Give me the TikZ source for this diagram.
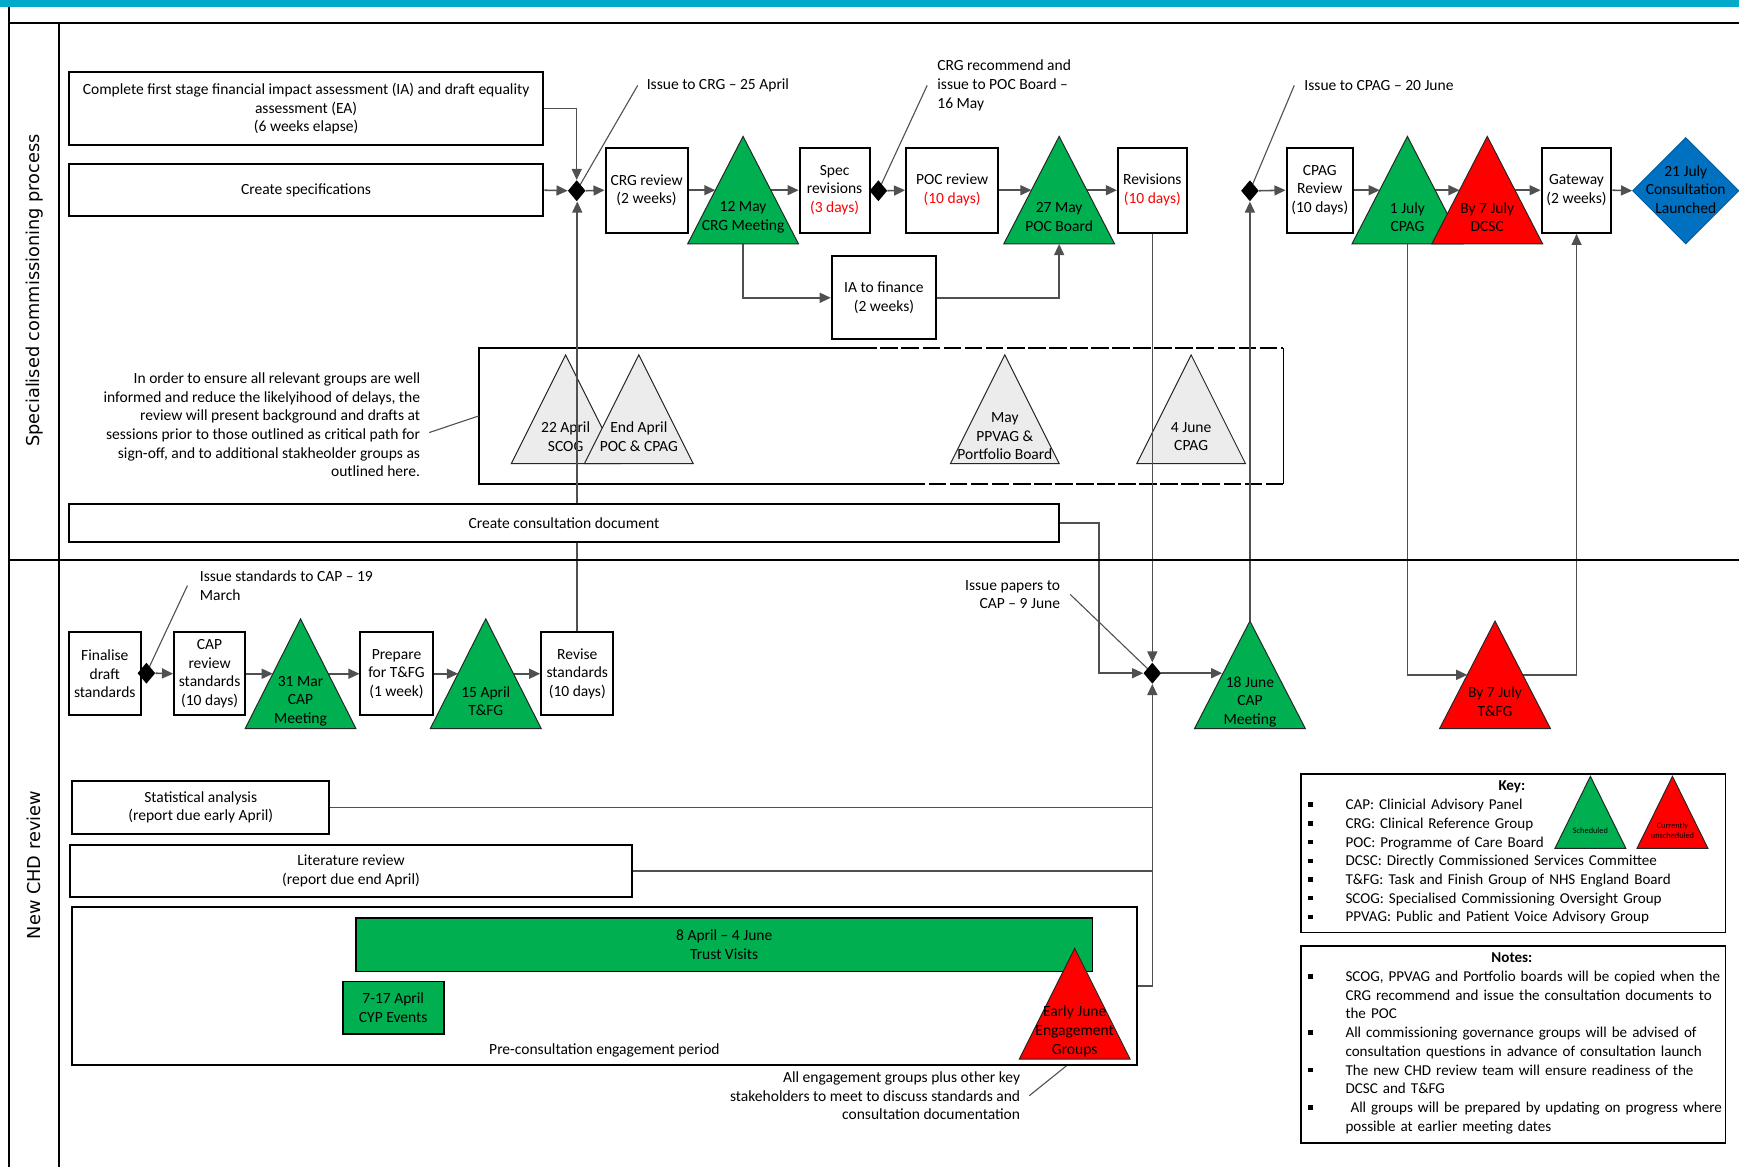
\documentclass[tikz,border=0pt]{standalone}
\usepackage{fontspec}
\setmainfont{Carlito}
\newfontfamily\lanefont{DejaVu Sans}
\usetikzlibrary{arrows.meta,shapes.geometric}
\definecolor{teal1}{RGB}{0,170,200}
\definecolor{gr}{RGB}{0,176,80}
\definecolor{rd}{RGB}{255,0,0}
\definecolor{bl}{RGB}{0,112,192}
\definecolor{conn}{RGB}{80,80,80}
\definecolor{lgrey}{RGB}{236,236,236}
\pgfdeclarelayer{back}\pgfdeclarelayer{mid}\pgfsetlayers{back,mid,main}
\newcommand\fs{\fontsize{14}{16.8}\selectfont}
\newcommand\kfs{\fontsize{13.6}{16.9}\selectfont}
\newcommand\tinyfs{\fontsize{7.5}{8.8}\selectfont}
\newcommand\bx[6][]{\node[box,#1,minimum width={(#4-#2)*1pt},minimum height={(#5-#3)*1pt}] (#6) at ({(#2+#4)/2},{(#3+#5)/2})}
\newcommand\mtri[8][]{%
  \path[tri,fill=#7] (#3,#4) coordinate (#2-t) -- ++(#5,#6) coordinate (#2-br) -- ++({-2*#5},0) coordinate (#2-bl) -- cycle;
  \coordinate (#2-b) at (#3,{#4+#6});
  \coordinate (#2-L) at ({#3-#5/2},{#4+#6/2});
  \coordinate (#2-R) at ({#3+#5/2},{#4+#6/2});
  \node[tritxt,#1] (#2) at (#3,{#4+0.75*#6}) {#8};}
\newcommand\kitem{\par\hangindent=33pt\hangafter=1\noindent\makebox[33pt][l]{\hspace{-1pt}\raisebox{2.5pt}{\rule{4.5pt}{4pt}}}}
\begin{document}
\begin{tikzpicture}[x=1pt,y=-1pt,font=\fs,
  box/.style={draw=black,line width=1.8pt,fill=white,align=center,inner sep=1pt},
  tri/.style={draw=black!85,line width=0.9pt},
  tritxt/.style={align=center,inner sep=0pt},
  conn/.style={draw=conn,line width=1.4pt},
  arr/.style={conn,-{Triangle[length=10pt,width=9pt]}},
  call/.style={draw=conn,line width=1pt},
  jn/.style={diamond,fill=black,inner sep=0pt,minimum width=16pt,minimum height=19pt},
  lane/.style={draw=black,line width=1.6pt},
  txt/.style={inner sep=0pt}]
\useasboundingbox (0,0) rectangle (1568,1052);
\fill[teal1] (0,0) rectangle (1568,6);
\draw[lane] (8,6) -- (8,1052);
\draw[lane] (8,21) -- (1568,21);
\draw[lane] (53,21) -- (53,1052);
\draw[lane] (8,505) -- (1568,505);
\node[rotate=90,font=\lanefont\fontsize{16}{18}\selectfont] (lane1) at (31,262) {Specialised commissioning process};
\node[rotate=90,font=\lanefont\fontsize{16}{18}\selectfont] (lane2) at (31,780) {New CHD review};

% grey group
\begin{pgfonlayer}{back}
\node[minimum width=725pt,minimum height=122pt,inner sep=0pt] (grp) at (794.5,375) {};
\draw[line width=1.4pt] ([xshift=343pt]grp.north west) -- (grp.north west) -- (grp.south west) -- ([xshift=398pt]grp.south west);
\draw[line width=1.4pt] (grp.north east) -- (grp.south east);
\draw[line width=1.4pt,dash pattern=on 16pt off 3pt] ([xshift=343pt]grp.north west) -- (grp.north east);
\draw[line width=1.4pt,dash pattern=on 16pt off 3pt] (grp.south east) -- ([xshift=398pt]grp.south west);
\mtri{g22}{510}{320}{49}{98}{lgrey}{22 April\\SCOG}
\mtri{gea}{576}{320}{49}{98}{lgrey}{End April\\POC \& CPAG}
\mtri{gmay}{906}{320}{49}{98}{lgrey}{May\\PPVAG \&\\Portfolio Board}
\mtri{g4j}{1074}{320}{49}{98}{lgrey}{4 June\\CPAG}
\end{pgfonlayer}

% top lane
\bx{62}{65}{490}{131}{ia}{Complete first stage financial impact assessment (IA) and draft equality\\assessment (EA)\\(6 weeks elapse)};
\bx{62}{148}{490}{195}{spec}{Create specifications};
\node[jn] (j1) at (520,172) {};
\bx{546}{133}{620}{210}{crgr}{CRG review\\(2 weeks)};
\mtri{m12}{670}{123}{50}{97}{gr}{12 May\\CRG Meeting}
\bx{721}{133}{784}{210}{specr}{Spec\\revisions\\\textcolor{rd}{(3 days)}};
\node[jn] (j2) at (792,172) {};
\bx{817}{133}{900}{210}{pocr}{POC review\\\textcolor{rd}{(10 days)}};
\mtri{m27}{955}{123}{50}{97}{gr}{27 May\\POC Board}
\bx{1008}{133}{1070}{210}{rev}{Revisions\\\textcolor{rd}{(10 days)}};
\node[jn] (j4) at (1127,172) {};
\bx{1160}{133}{1220}{210}{cpagr}{CPAG\\Review\\(10 days)};
\mtri{m1j}{1269}{123}{50}{97}{gr}{1 July\\CPAG}
\mtri{m7d}{1341}{123}{50}{97}{rd}{By 7 July\\DCSC}
\bx{1390}{133}{1453}{210}{gate}{Gateway\\(2 weeks)};
\node[diamond,fill=bl,draw=bl!80!black,line width=0.8pt,minimum width=96pt,minimum height=96pt,inner sep=0pt] (launch) at (1520,172) {};
\node[tritxt] (launchtxt) at (1520,171) {21 July\\Consultation\\Launched};
\bx{750}{231}{844}{306}{iafin}{IA to finance\\(2 weeks)};
\bx{62}{454}{955}{489}{cons}{Create consultation document};

\node[txt,anchor=west] (c1) at (583,77) {Issue to CRG – 25 April};
\node[txt,anchor=west,align=left] (c2) at (845,77) {CRG recommend and\\issue to POC Board –\\16 May};
\node[txt,anchor=west] (c3) at (1176,77) {Issue to CPAG – 20 June};
\node[txt,anchor=east,align=right] (para) at (379,383) {In order to ensure all relevant groups are well\\informed and reduce the likelyihood of delays, the\\review will present background and drafts at\\sessions prior to those outlined as critical path for\\sign-off, and to additional stakheolder groups as\\outlined here.};

% bottom lane
\bx{62}{570}{127}{645}{fin}{Finalise\\draft\\standards};
\node[jn] (j0) at (132,607) {};
\bx{157}{570}{221}{645}{capr}{CAP\\review\\standards\\(10 days)};
\mtri{m31}{271}{558}{50}{99}{gr}{31 Mar\\CAP\\Meeting}
\bx{325}{570}{390}{645}{prep}{Prepare\\for T\&FG\\(1 week)};
\mtri{m15}{438}{558}{50}{99}{gr}{15 April\\T\&FG}
\bx{488}{570}{553}{645}{revs}{Revise\\standards\\(10 days)};
\node[jn] (j3) at (1039,607) {};
\mtri{m18}{1127}{560}{50}{97}{gr}{18 June\\CAP\\Meeting}
\mtri{m7t}{1348}{560}{50}{97}{rd}{By 7 July\\T\&FG}
\node[txt,anchor=west,align=left] (c4) at (180,528) {Issue standards to CAP – 19\\March};
\node[txt,anchor=east,align=right] (c5) at (956,536) {Issue papers to\\CAP – 9 June};

\bx{65}{704}{297}{752}{stat}{Statistical analysis\\(report due early April)};
\bx{63}{762}{570}{809}{lit}{Literature review\\(report due end April)};
\bx{65}{818}{1025}{960}{pre}{};
\node[txt] (pretxt) at (545,947) {Pre-consultation engagement period};
\node[draw=black,line width=1.6pt,fill=gr,align=center,inner sep=0pt,minimum width=664pt,minimum height=48pt] (tv) at (653,852) {8 April – 4 June\\Trust Visits};
\node[draw=black,line width=1.6pt,fill=gr,align=center,inner sep=0pt,minimum width=91pt,minimum height=47pt] (cyp) at (354.5,908.5) {7-17 April\\CYP Events};
\mtri{mej}{969}{855}{50}{100}{rd}{Early June\\Engagement\\Groups}
\node[txt,anchor=east,align=right] (c6) at (920,988) {All engagement groups plus other key\\stakeholders to meet to discuss standards and\\consultation documentation};

% key
\node[draw=black,line width=1.6pt,anchor=north west,minimum width=383pt,minimum height=143pt,inner sep=0pt] (key) at (1172,697) {};
\node[txt,anchor=north west,text width=372pt,align=left,font=\kfs] (keytxt) at (1180,704) {\makebox[366pt]{\textbf{Key:}}\kitem CAP: Clinicial Advisory Panel\kitem CRG: Clinical Reference Group\kitem POC: Programme of Care Board\kitem DCSC: Directly Commissioned Services Committee\kitem T\&FG: Task and Finish Group of NHS England Board\kitem SCOG: Specialised Commissioning Oversight Group\kitem PPVAG: Public and Patient Voice Advisory Group\par};
\mtri[font=\tinyfs]{ks}{1434}{700}{32}{65}{gr}{Scheduled}
\mtri[font=\tinyfs]{ku}{1508}{700}{32}{65}{rd}{Currently\\unscheduled}
\node[draw=black,line width=1.6pt,anchor=north west,minimum width=383pt,minimum height=178pt,inner sep=0pt] (notes) at (1172,852) {};
\node[txt,anchor=north west,text width=380pt,align=left,font=\kfs] (notestxt) at (1180,859) {\makebox[366pt]{\textbf{Notes:}}\kitem SCOG, PPVAG and Portfolio boards will be copied when the\newline CRG recommend and issue the consultation documents to\newline the POC\kitem All commissioning governance groups will be advised of\newline consultation questions in advance of consultation launch\kitem The new CHD review team will ensure readiness of the\newline DCSC and T\&FG\kitem \ All groups will be prepared by updating on progress where\newline possible at earlier meeting dates\par};

% connectors
\begin{pgfonlayer}{mid}
\draw[arr] (ia.east) -| (j1.north);
\draw[arr] (spec.east) -- (j1.west);
\draw[arr] (revs.north) -- (revs.north |- j1.south);
\draw[arr] (j1.east) -- (crgr.west);
\draw[arr] (crgr.east) -- (m12-L |- crgr.east);
\draw[arr] (m12-R |- specr.west) -- (specr.west);
\draw[conn] (specr.east) -- (j2.west);
\draw[arr] (j2.east) -- (pocr.west);
\draw[arr] (pocr.east) -- (m27-L |- pocr.east);
\draw[arr] (m27-R |- rev.west) -- (rev.west);
\draw[arr] (rev.south) -- (rev.south |- j3.north);
\draw[arr] (m18-t) -- (j4.south);
\draw[arr] (j4.east) -- (cpagr.west);
\draw[arr] (cpagr.east) -- (m1j-L |- cpagr.east);
\draw[arr] (m1j-R) -- (m7d-L);
\draw[arr] (m7d-R |- gate.west) -- (gate.west);
\draw[arr] (gate.east) -- (launch.west);
\draw[arr] (m12-b) |- (iafin.west);
\draw[arr] (iafin.east) -| (m27-b);
\draw[arr] (m1j-b) |- (m7t-L);
\draw[arr] (m7t-R) -| (gate.south);
\draw[arr] (cons.east) -- ++(35,0) |- (j3.west);
\draw[arr] (pre.east) -| (j3.south);
\draw[conn] (stat.east) -- (stat.east -| j3);
\draw[conn] (lit.east) -- (lit.east -| j3);
\draw[conn] (fin.east) -- (j0.west);
\draw[arr] (j0.east) -- (capr.west);
\draw[arr] (capr.east) -- (m31-L |- capr.east);
\draw[arr] (m31-R |- prep.west) -- (prep.west);
\draw[arr] (prep.east) -- (m15-L |- prep.east);
\draw[arr] (m15-R |- revs.west) -- (revs.west);
\draw[arr] (j3.east) -- (m18-L |- j3.east);
\draw[call] ([xshift=-8pt]c1.west) -- (j1.center);
\draw[call] ([xshift=-9pt]c2.west) -- (j2.center);
\draw[call] ([xshift=-9pt]c3.west) -- (j4.center);
\draw[call] ([xshift=-11pt]c4.west) -- (j0.center);
\draw[call] ([xshift=9pt]c5.east) -- (j3.center);
\draw[call] ([xshift=8pt]c6.east) -- (mej-b);
\draw[call] ([xshift=8pt,yshift=-7pt]para.east) -- (grp.west);
\end{pgfonlayer}
\end{tikzpicture}
\end{document}
